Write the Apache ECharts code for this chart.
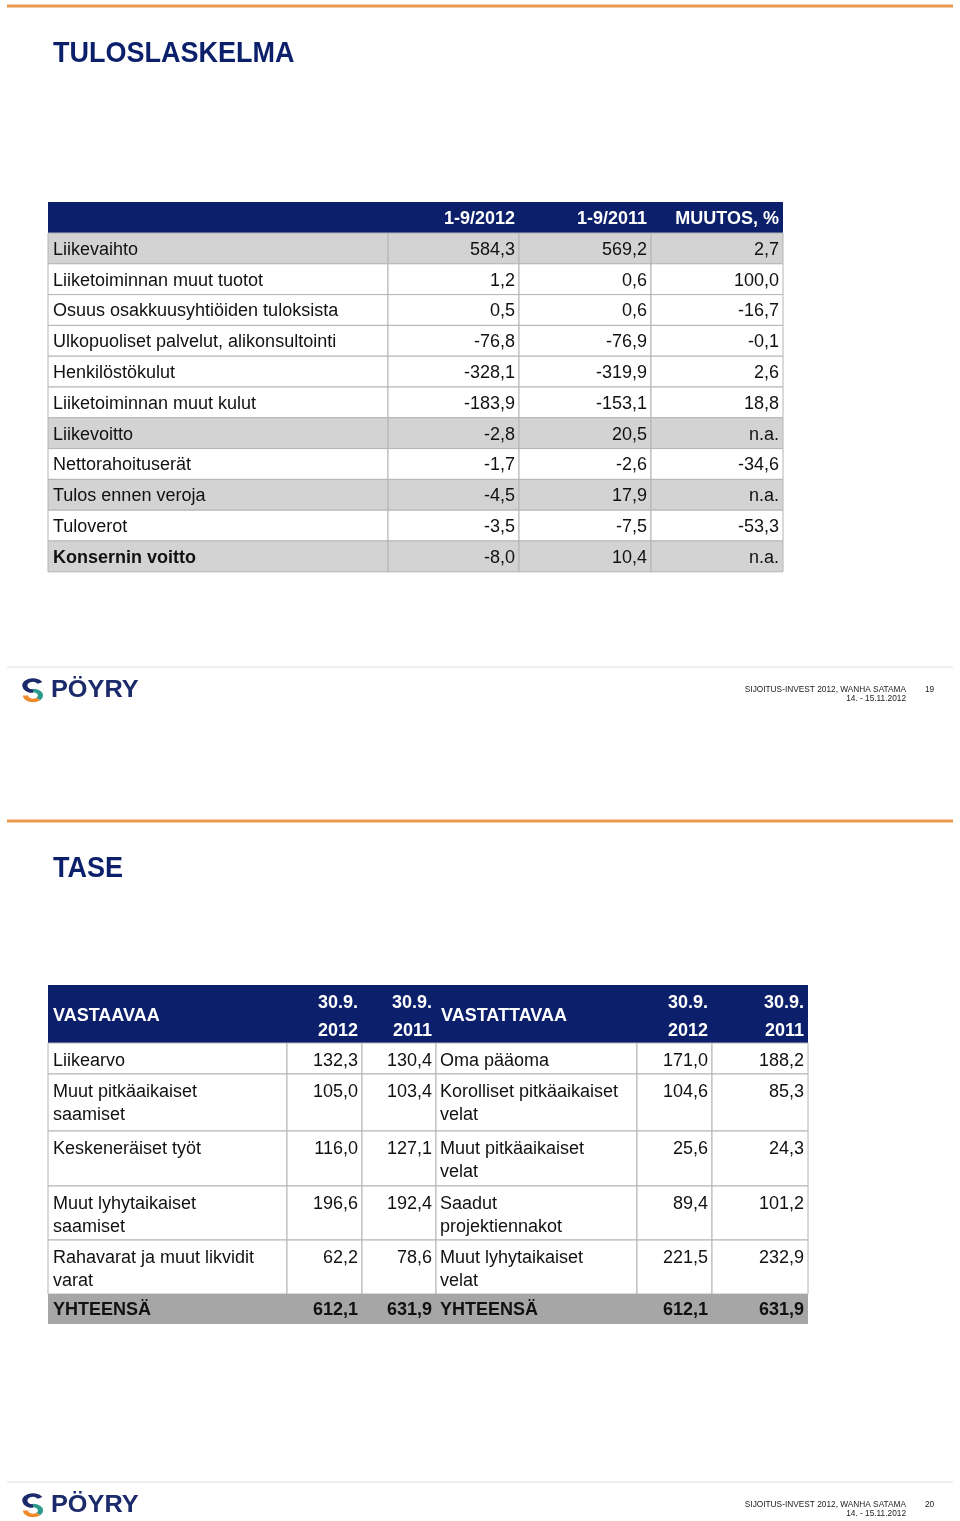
<!DOCTYPE html>
<html>
<head>
<meta charset="utf-8">
<script src="https://cdn.jsdelivr.net/npm/echarts@6/dist/echarts.min.js"></script>
<style>
html, body { margin: 0; padding: 0; background: #fff; }
#main { width: 960px; height: 1521px; }
</style>
</head>
<body>
<div id="main"></div>
<script>
// Tuloslaskelma
const incomeHeaders = ['1-9/2012', '1-9/2011', 'MUUTOS, %']
const incomeItems = [
  'Liikevaihto',
  'Liiketoiminnan muut tuotot',
  'Osuus osakkuusyhtiöiden tuloksista',
  'Ulkopuoliset palvelut, alikonsultointi',
  'Henkilöstökulut',
  'Liiketoiminnan muut kulut',
  'Liikevoitto',
  'Nettorahoituserät',
  'Tulos ennen veroja',
  'Tuloverot',
  'Konsernin voitto'
]
const income2012 = [584.3, 1.2, 0.5, -76.8, -328.1, -183.9, -2.8, -1.7, -4.5, -3.5, -8.0]
const income2011 = [569.2, 0.6, 0.6, -76.9, -319.9, -153.1, 20.5, -2.6, 17.9, -7.5, 10.4]
const incomeChange = [2.7, 100.0, -16.7, -0.1, 2.6, 18.8, null, -34.6, null, -53.3, null]
const incomeShaded = [1, 0, 0, 0, 0, 0, 1, 0, 1, 0, 1]

// Tase
const balanceHeaders = ['30.9.\n2012', '30.9.\n2011']
const assetItems = [
  'Liikearvo',
  'Muut pitkäaikaiset\nsaamiset',
  'Keskeneräiset työt',
  'Muut lyhytaikaiset\nsaamiset',
  'Rahavarat ja muut likvidit\nvarat'
]
const assets2012 = [132.3, 105.0, 116.0, 196.6, 62.2]
const assets2011 = [130.4, 103.4, 127.1, 192.4, 78.6]
const liabilityItems = [
  'Oma pääoma',
  'Korolliset pitkäaikaiset\nvelat',
  'Muut pitkäaikaiset\nvelat',
  'Saadut\nprojektiennakot',
  'Muut lyhytaikaiset\nvelat'
]
const liabilities2012 = [171.0, 104.6, 25.6, 89.4, 221.5]
const liabilities2011 = [188.2, 85.3, 24.3, 101.2, 232.9]
const assetsTotal = [612.1, 631.9]
const liabilitiesTotal = [612.1, 631.9]

const FONT = '"Liberation Sans", Arial, Helvetica, sans-serif'
const NAVY = '#0b1f6a'
const ORANGE = '#ea9a4c'
const GRID = '#b4b4b4'
const SHADE = '#d3d3d3'

const fmt = v => v == null ? 'n.a.' : v.toFixed(1).replace('.', ',')

const elements = []

const rect = (x, y, w, h, fill, stroke) => {
  elements.push({
    type: 'rect', silent: true,
    shape: { x: x, y: y, width: w, height: h },
    style: { fill: fill, stroke: stroke || null, lineWidth: 1 }
  })
}

const text = (x, y, str, opt) => {
  opt = opt || {}
  elements.push({
    type: 'text', silent: true, x: x, y: y,
    scaleX: opt.scaleX || 1,
    style: {
      text: str,
      fill: opt.color || '#111',
      font: (opt.bold ? 'bold ' : '') + (opt.size || 18) + 'px ' + FONT,
      align: opt.align || 'left',
      verticalAlign: opt.valign || 'middle',
      lineHeight: opt.lineHeight || 23
    }
  })
}

const line = (x1, y1, x2, y2, color, width) => {
  elements.push({
    type: 'line', silent: true,
    shape: { x1: x1, y1: y1, x2: x2, y2: y2 },
    style: { stroke: color, lineWidth: width }
  })
}

const arc = (x, y, r, a0, a1, cw, color) => {
  elements.push({
    type: 'arc', silent: true, x: x, y: y, scaleX: 1.5,
    shape: { cx: 0, cy: 0, r: r, startAngle: a0, endAngle: a1, clockwise: cw },
    style: { stroke: color, lineWidth: 3.5, fill: null }
  })
}

// slide header + footer
const slide = (top, title, page) => {
  line(7, top + 6, 953, top + 6, ORANGE, 3)
  text(53, top + 54, title, { bold: true, size: 30, color: NAVY, scaleX: 0.9 })
  line(7, top + 667, 953, top + 667, '#dedede', 1)
  // logo
  arc(33, top + 685.5, 5.5, -Math.PI / 6, Math.PI / 2, false, '#1b2a6b')
  arc(33, top + 695.5, 5, -Math.PI / 2, Math.PI / 4, true, '#2a9a8a')
  arc(33, top + 695.5, 5, Math.PI / 4, Math.PI, true, '#ee8a2a')
  text(51, top + 691, 'PÖYRY', { bold: true, size: 23, color: '#1b2a6b', scaleX: 1.1 })
  text(906, top + 690, 'SIJOITUS-INVEST 2012, WANHA SATAMA', { size: 8.3, color: '#222', align: 'right' })
  text(906, top + 699, '14. - 15.11.2012', { size: 8.3, color: '#222', align: 'right' })
  text(925, top + 690, String(page), { size: 8.3, color: '#222' })
}

slide(0, 'TULOSLASKELMA', 19)
slide(815, 'TASE', 20)

// table 1
const t1Cols = [48, 388, 519, 651, 783]
const t1Top = 202
const t1HeadH = 31
const t1RowH = 30.8
rect(t1Cols[0], t1Top, t1Cols[4] - t1Cols[0], t1HeadH, NAVY)
incomeHeaders.forEach((h, j) => {
  text(t1Cols[j + 2] - 4, t1Top + t1HeadH / 2 + 1.5, h, { bold: true, color: '#fff', align: 'right' })
})
incomeItems.forEach((name, i) => {
  const y = t1Top + t1HeadH + i * t1RowH
  const fill = incomeShaded[i] ? SHADE : '#fff'
  const vals = [income2012[i], income2011[i], incomeChange[i]]
  for (let j = 0; j < 4; j++) rect(t1Cols[j], y, t1Cols[j + 1] - t1Cols[j], t1RowH, fill, GRID)
  const bold = i === incomeItems.length - 1
  const cy = y + t1RowH / 2 + 1.5
  text(t1Cols[0] + 5, cy, name, { bold: bold })
  vals.forEach((v, j) => text(t1Cols[j + 2] - 4, cy, fmt(v), { align: 'right' }))
})

// table 2
const t2Cols = [48, 287, 362, 436, 637, 712, 808]
const t2Top = 985
const t2HeadH = 58
rect(t2Cols[0], t2Top, t2Cols[6] - t2Cols[0], t2HeadH, NAVY)
text(t2Cols[0] + 5, t2Top + 31, 'VASTAAVAA', { bold: true, color: '#fff' })
text(t2Cols[3] + 5, t2Top + 31, 'VASTATTAVAA', { bold: true, color: '#fff' })
;[1, 2, 4, 5].forEach((c, k) => {
  text(t2Cols[c + 1] - 4, t2Top + 4, balanceHeaders[k % 2], { bold: true, color: '#fff', align: 'right', valign: 'top', lineHeight: 28 })
})
const t2Heights = [31, 57, 55, 54, 54]
let y = t2Top + t2HeadH
assetItems.forEach((name, i) => {
  const h = t2Heights[i]
  for (let j = 0; j < 6; j++) rect(t2Cols[j], y, t2Cols[j + 1] - t2Cols[j], h, '#fff', GRID)
  const ty = y + 7
  const o = { valign: 'top' }
  const r = { valign: 'top', align: 'right' }
  text(t2Cols[0] + 5, ty, name, o)
  text(t2Cols[2] - 4, ty, fmt(assets2012[i]), r)
  text(t2Cols[3] - 4, ty, fmt(assets2011[i]), r)
  text(t2Cols[3] + 4, ty, liabilityItems[i], o)
  text(t2Cols[5] - 4, ty, fmt(liabilities2012[i]), r)
  text(t2Cols[6] - 4, ty, fmt(liabilities2011[i]), r)
  y += h
})
rect(t2Cols[0], y, t2Cols[6] - t2Cols[0], 30, '#a6a6a6')
const tb = { bold: true, align: 'right' }
text(t2Cols[0] + 5, y + 16, 'YHTEENSÄ', { bold: true })
text(t2Cols[2] - 4, y + 16, fmt(assetsTotal[0]), tb)
text(t2Cols[3] - 4, y + 16, fmt(assetsTotal[1]), tb)
text(t2Cols[3] + 4, y + 16, 'YHTEENSÄ', { bold: true })
text(t2Cols[5] - 4, y + 16, fmt(liabilitiesTotal[0]), tb)
text(t2Cols[6] - 4, y + 16, fmt(liabilitiesTotal[1]), tb)

const chart = echarts.init(document.getElementById('main'), null, { renderer: 'canvas' })
chart.setOption({
  animation: false,
  backgroundColor: '#fff',
  graphic: { elements: elements }
})
window.addEventListener('resize', () => chart.resize())
</script>
</body>
</html>
